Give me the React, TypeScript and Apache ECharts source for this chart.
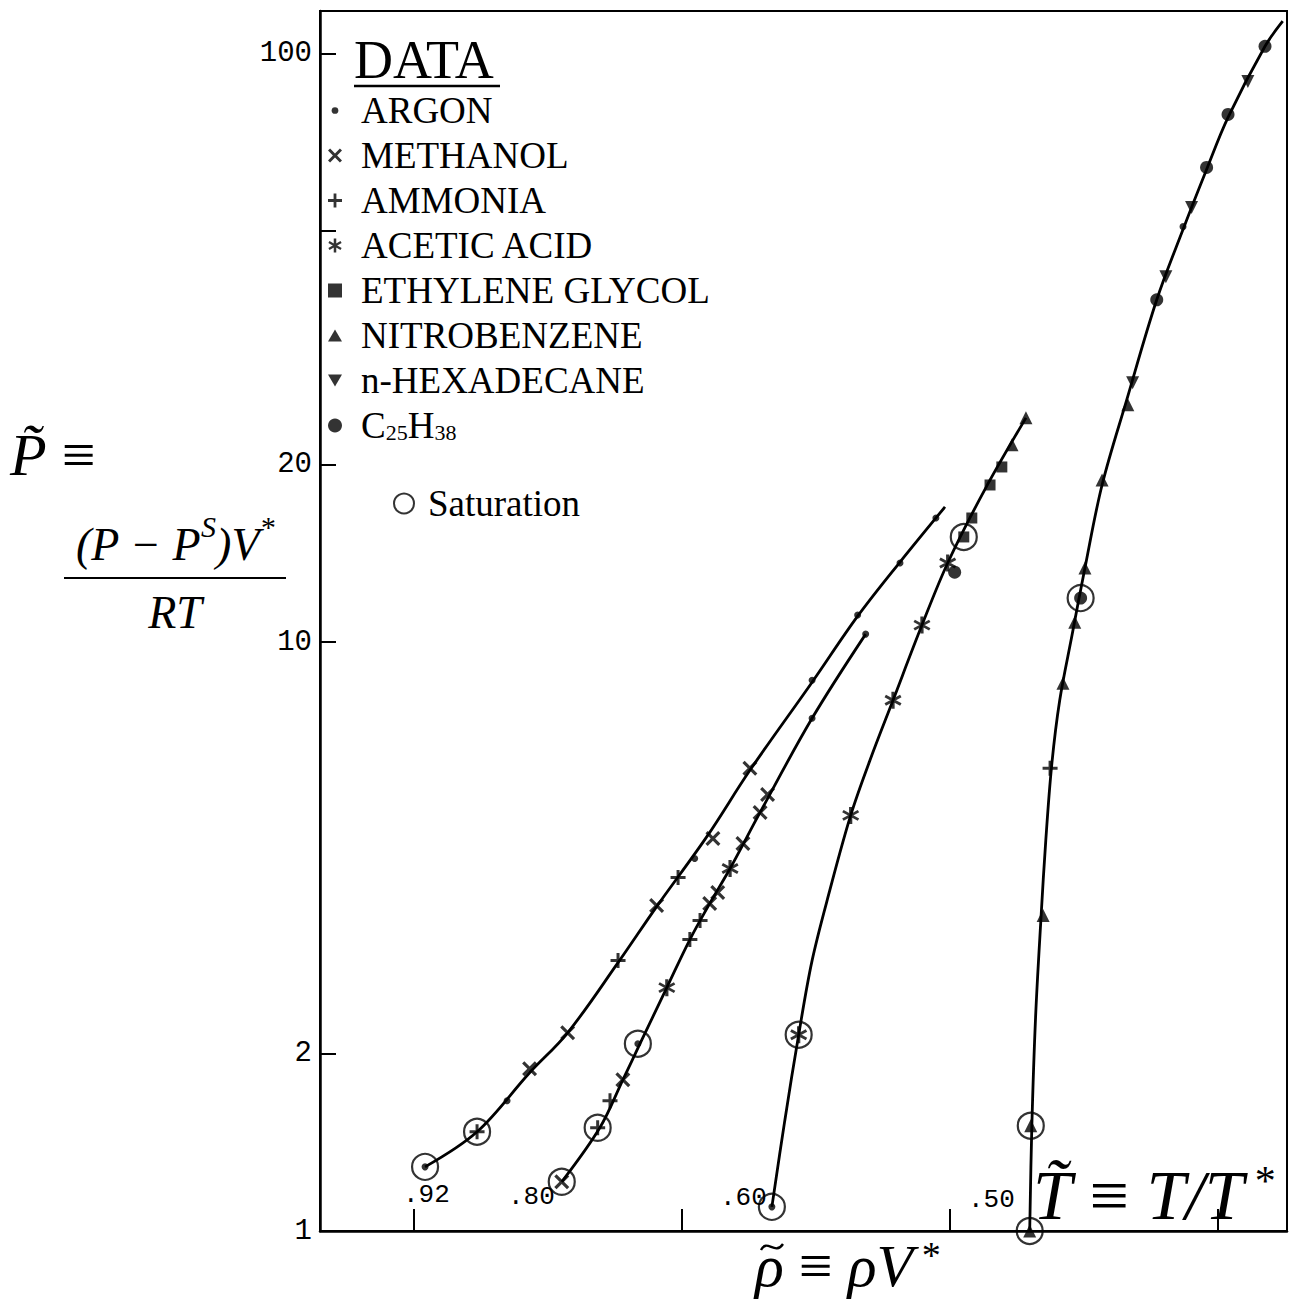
import React, { useEffect, useRef } from 'react';
import * as echarts from 'echarts';

// ---- Axes ----
const X_MIN = 0.7825;
const X_MAX = 0.9629;
const Y_MIN = 1;
const Y_MAX = 118;
const X_TICKS = [0.8, 0.85, 0.9, 0.95];
const Y_TICKS = [1, 2, 10, 20, 50, 100];
const Y_LABELS = [1, 2, 10, 20, 100];

// ---- Isotherms (reduced temperature) ----
const T_LABELS = ['.92', '.80', '.60', '.50'];
const CURVE_T092 = [[0.8021, 1.285], [0.8118, 1.474], [0.8216, 1.857], [0.8287, 2.171], [0.8381, 2.856], [0.8453, 3.556], [0.8547, 4.679], [0.8627, 6.059], [0.8743, 8.551], [0.8828, 11.07], [0.8907, 13.68], [0.8991, 16.97]];
const CURVE_T080 = [[0.8276, 1.212], [0.8347, 1.497], [0.839, 1.806], [0.8422, 2.08], [0.8472, 2.59], [0.8515, 3.126], [0.8552, 3.599], [0.859, 4.127], [0.8646, 5.139], [0.8743, 7.425], [0.8843, 10.32]];
const CURVE_T060 = [[0.8668, 1.099], [0.8692, 1.538], [0.8718, 2.154], [0.8743, 2.879], [0.8776, 3.787], [0.8815, 5.079], [0.8851, 6.3], [0.8894, 7.967], [0.8948, 10.69], [0.8996, 13.63], [0.9065, 18.14], [0.9142, 24.04]];
const CURVE_T050 = [[0.9149, 1.0], [0.9153, 1.509], [0.916, 2.312], [0.917, 3.394], [0.9179, 4.606], [0.919, 6.179], [0.9205, 7.967], [0.9228, 10.28], [0.9252, 13.36], [0.9284, 18.49], [0.933, 25.79], [0.9386, 38.15], [0.9435, 50.21], [0.9479, 63.5], [0.9519, 77.84], [0.9588, 102.8], [0.9621, 113.4]];

// ---- Data points by substance ----
const ARGON = [[0.8174, 1.664], [0.8021, 1.285], [0.8418, 2.08], [0.8668, 1.099], [0.8524, 4.292], [0.8743, 8.618], [0.8828, 11.12], [0.8907, 13.63], [0.8974, 16.25], [0.8743, 7.425], [0.8843, 10.32], [0.9435, 50.78]];
const METHANOL = [[0.8216, 1.886], [0.8287, 2.171], [0.8453, 3.57], [0.8558, 4.642], [0.8627, 6.107], [0.8276, 1.212], [0.839, 1.806], [0.8552, 3.599], [0.8567, 3.757], [0.8614, 4.551], [0.8646, 5.139], [0.866, 5.513]];
const AMMONIA = [[0.8118, 1.474], [0.8381, 2.879], [0.8493, 3.984], [0.8343, 1.497], [0.8366, 1.664], [0.8515, 3.126], [0.8534, 3.367], [0.9187, 6.107]];
const ACETIC_ACID = [[0.8718, 2.154], [0.8815, 5.079], [0.8894, 7.967], [0.8948, 10.69], [0.8996, 13.63], [0.8472, 2.59], [0.859, 4.127]];
const ETHYLENE_GLYCOL = [[0.9026, 15.09], [0.9041, 16.25], [0.9075, 18.49], [0.9097, 19.84]];
const NITROBENZENE = [[0.9116, 21.63], [0.9142, 24.04], [0.9174, 3.434], [0.9211, 8.517], [0.9233, 10.81], [0.9252, 13.36], [0.9284, 18.86], [0.9332, 25.3], [0.9151, 1.509], [0.9149, 1.0]];
const N_HEXADECANE = [[0.9341, 27.57], [0.9403, 41.76], [0.9451, 54.71], [0.9556, 89.6]];
const C25H38 = [[0.9244, 11.88], [0.9386, 38.15], [0.9479, 64.0], [0.9519, 78.76], [0.9588, 102.8], [0.9009, 13.15]];
const SATURATION = [[0.8021, 1.285], [0.8118, 1.474], [0.8276, 1.212], [0.8343, 1.497], [0.8418, 2.08], [0.8668, 1.099], [0.8718, 2.154], [0.9026, 15.09], [0.9151, 1.509], [0.9149, 1.0], [0.9244, 11.88]];

const NAMES = ['ARGON', 'METHANOL', 'AMMONIA', 'ACETIC ACID', 'ETHYLENE GLYCOL', 'NITROBENZENE', 'n-HEXADECANE', 'C25H38'];

const SYM_X = 'path://M0,1.5L1.5,0L5,3.5L8.5,0L10,1.5L6.5,5L10,8.5L8.5,10L5,6.5L1.5,10L0,8.5L3.5,5Z';
const SYM_PLUS = 'path://M4,0H6V4H10V6H6V10H4V6H0V4H4Z';
const SYM_AST = 'path://M4.1,0H5.9V10H4.1ZM8.93,8.19L0.27,3.19L1.07,1.81L9.73,6.81ZM0.27,6.81L8.93,1.81L9.73,3.19L1.07,8.19Z';
const SYM_DOWN = 'path://M0,0L10,0L5,8.7Z';
const SYM_UP = 'path://M5,0L10,8.7L0,8.7Z';
const ICON_SMALL_DOT = 'path://M0,0M10,10M2.6,5A2.4,2.4 0 1,0 7.4,5A2.4,2.4 0 1,0 2.6,5Z';

const SERIF = '"Liberation Serif", "Times New Roman", serif';
const MONO = '"Liberation Mono", "DejaVu Sans Mono", monospace';

function marker(name: string, data: number[][], symbol: string, size: number) {
  return {
    type: 'scatter',
    name,
    data,
    symbol,
    symbolSize: size,
    z: 5,
    silent: true,
    itemStyle: { color: '#000' },
  };
}

function curve(data: number[][]) {
  return {
    type: 'line',
    data,
    symbol: 'none',
    smooth: 0.35,
    z: 4,
    silent: true,
    lineStyle: { color: '#000', width: 2.8 },
  };
}

function txt(x: number, y: number, text: string, font: string, align = 'left', rich?: any) {
  return {
    type: 'text',
    x,
    y,
    silent: true,
    z: 10,
    style: {
      text,
      font,
      fill: '#000',
      align,
      textAlign: align,
      verticalAlign: 'middle',
      textVerticalAlign: 'middle',
      rich,
    },
  };
}

export default function App() {
  const ref = useRef<HTMLDivElement>(null);
  useEffect(() => {
    if (!ref.current) return;
    const chart = echarts.init(ref.current, undefined, { renderer: 'svg' });
    const legendText = {
      fontFamily: SERIF,
      fontSize: 37,
      color: '#000',
      lineHeight: 36,
      padding: [0, 0, 0, 14],
      rich: {
        n: { fontFamily: SERIF, fontSize: 37, lineHeight: 36, color: '#000' },
        s: { fontFamily: SERIF, fontSize: 22, lineHeight: 10, verticalAlign: 'bottom', color: '#000' },
      },
    };
    const italic = (fs: number) => ({ fontFamily: SERIF, fontStyle: 'italic', fontSize: fs, fill: '#000', lineHeight: fs });
    const upright = (fs: number) => ({ fontFamily: SERIF, fontSize: fs, fill: '#000', lineHeight: fs });
    const sup = (fs: number, k = 2.2, pad = 0) => ({ fontFamily: SERIF, fontStyle: 'italic', fontSize: fs, fill: '#000', lineHeight: fs * k, verticalAlign: 'top', padding: [0, 0, 0, pad] });

    const option: any = {
      animation: false,
      backgroundColor: '#fff',
      grid: { left: 320, top: 11, right: 7, bottom: 71, show: true, borderColor: '#000', borderWidth: 2, backgroundColor: 'transparent' },
      xAxis: {
        type: 'value',
        min: X_MIN,
        max: X_MAX,
        axisLine: { show: true, lineStyle: { color: '#000', width: 2.5 } },
        axisTick: { show: true, inside: true, length: 22, lineStyle: { color: '#000', width: 2 }, customValues: X_TICKS },
        axisLabel: { show: false },
        splitLine: { show: false },
      },
      yAxis: {
        type: 'log',
        logBase: 10,
        min: Y_MIN,
        max: Y_MAX,
        axisLine: { show: true, lineStyle: { color: '#000', width: 2.5 } },
        axisTick: { show: true, inside: true, length: 16, lineStyle: { color: '#000', width: 2 }, customValues: Y_TICKS },
        axisLabel: { customValues: Y_LABELS, fontFamily: MONO, fontSize: 29, color: '#000', margin: 8 },
        splitLine: { show: false },
      },
      legend: [
        {
          data: [
            { name: 'ARGON', icon: ICON_SMALL_DOT },
            { name: 'METHANOL' },
            { name: 'AMMONIA' },
            { name: 'ACETIC ACID' },
            { name: 'ETHYLENE GLYCOL' },
            { name: 'NITROBENZENE' },
            { name: 'n-HEXADECANE' },
            { name: 'C25H38' },
          ],
          orient: 'vertical',
          left: 323,
          top: 87,
          itemGap: 8,
          itemWidth: 14,
          itemHeight: 14,
          selectedMode: false,
          textStyle: legendText,
          formatter: (name: string) => (name === 'C25H38' ? '{n|C}{s|25}{n|H}{s|38}' : name),
        },
        {
          data: ['Saturation'],
          orient: 'vertical',
          left: 388,
          top: 480,
          itemWidth: 20,
          itemHeight: 20,
          selectedMode: false,
          textStyle: { ...legendText, padding: [0, 0, 0, 9] },
        },
      ],
      series: [
        {
          type: 'scatter',
          name: 'Saturation',
          data: SATURATION,
          symbol: 'circle',
          symbolSize: 26,
          z: 3,
          silent: true,
          itemStyle: { color: 'rgba(255,255,255,0)', borderColor: '#000', borderWidth: 2.2 },
        },
        curve(CURVE_T092),
        curve(CURVE_T080),
        curve(CURVE_T060),
        curve(CURVE_T050),
        marker(NAMES[0], ARGON, 'circle', 7),
        marker(NAMES[1], METHANOL, SYM_X, 15),
        marker(NAMES[2], AMMONIA, SYM_PLUS, 15),
        marker(NAMES[3], ACETIC_ACID, SYM_AST, 17),
        marker(NAMES[4], ETHYLENE_GLYCOL, 'rect', 11),
        marker(NAMES[5], NITROBENZENE, SYM_UP, 13),
        marker(NAMES[6], N_HEXADECANE, SYM_DOWN, 13),
        marker(NAMES[7], C25H38, 'circle', 13),
      ],
      graphic: [
        txt(354, 60, 'DATA', `54px ${SERIF}`),
        { type: 'line', silent: true, shape: { x1: 354, y1: 86, x2: 500, y2: 86 }, style: { stroke: '#000', lineWidth: 2.5 } },
        txt(10, 455, '{i|P̃} {n|≡}', `italic 60px ${SERIF}`, 'left', { i: italic(60), n: upright(60) }),
        txt(175, 544, '{i|(P − P}{s|S}{i|)V}{s|*}', `italic 46px ${SERIF}`, 'center', { i: italic(46), s: sup(30) }),
        { type: 'line', silent: true, shape: { x1: 64, y1: 578, x2: 286, y2: 578 }, style: { stroke: '#000', lineWidth: 2 } },
        txt(175, 612, '{i|RT}', `italic 46px ${SERIF}`, 'center', { i: italic(46) }),
        txt(1033, 1195, '{i|T̃} {n|≡} {i|T/T}{s|*}', `italic 70px ${SERIF}`, 'left', { i: italic(70), n: upright(70), s: sup(42, 1, 9) }),
        txt(755, 1266, '{i|ρ} {n|≡} {i|ρV}{s|*}', `italic 60px ${SERIF}`, 'left', { i: italic(60), n: upright(60), s: sup(38, 1, 7) }),
        {
          type: 'bezierCurve',
          silent: true,
          shape: { x1: 761, y1: 1250, cpx1: 767, cpy1: 1238, cpx2: 775, cpy2: 1256, x2: 783, y2: 1244 },
          style: { stroke: '#000', lineWidth: 2.4, fill: 'none' },
        },
        txt(403, 1195, T_LABELS[0], `26px ${MONO}`),
        txt(508, 1197, T_LABELS[1], `26px ${MONO}`),
        txt(720, 1198, T_LABELS[2], `26px ${MONO}`),
        txt(968, 1200, T_LABELS[3], `26px ${MONO}`),
      ],
    };
    chart.setOption(option);
    return () => chart.dispose();
  }, []);
  return <div ref={ref} style={{ position: 'absolute', left: 0, top: 0, width: 1294, height: 1302, background: '#fff' }} />;
}
